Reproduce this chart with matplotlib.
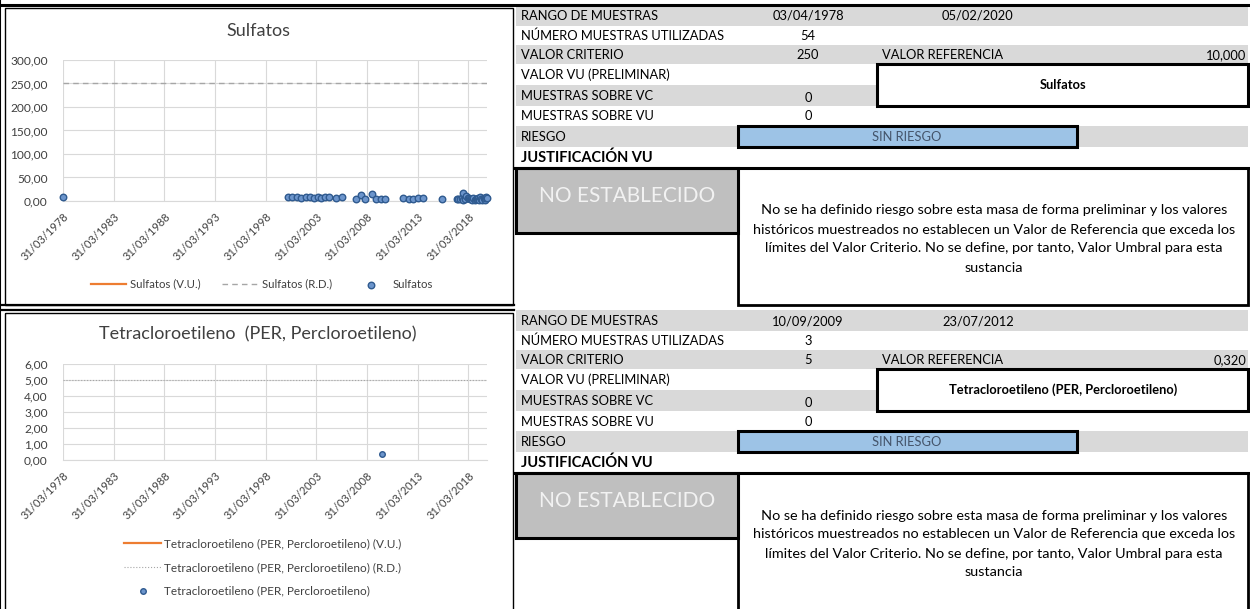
import pandas as pd
import matplotlib
matplotlib.use("Agg")
import matplotlib.pyplot as plt
from matplotlib.patches import Rectangle

plt.rcParams['font.family'] = ['Lato', 'DejaVu Sans']

W, H = 1250, 609

# ---- data -------------------------------------------------------------
sulf_dates = ['03/04/1978',
              '10/06/2000', '13/11/2000', '20/04/2001', '04/10/2001', '11/03/2002',
              '31/07/2002', '24/12/2002', '15/05/2003', '24/09/2003', '23/01/2004',
              '19/07/2004', '17/03/2005', '19/10/2005',
              '07/03/2007', '06/09/2007', '06/02/2008', '05/10/2008', '28/02/2009',
              '26/08/2009', '26/01/2010',
              '12/10/2011', '10/06/2012', '30/10/2012', '01/05/2013', '01/10/2013',
              '29/08/2015',
              '07/02/2017', '15/03/2017', '10/06/2017', '08/08/2017', '13/09/2017',
              '08/10/2017', '24/11/2017', '11/01/2018', '10/03/2018', '20/04/2018',
              '06/06/2018', '02/07/2018', '18/08/2018', '01/10/2018', '02/12/2018',
              '02/01/2019', '30/01/2019', '14/03/2019', '12/04/2019', '10/06/2019',
              '02/07/2019', '11/08/2019', '08/10/2019', '13/11/2019', '12/12/2019',
              '04/01/2020', '05/02/2020']
sulf_vals = [8,
             8, 8, 9, 7, 8, 8, 7, 8, 7, 8, 8, 7, 8,
             4, 13, 4, 15, 4, 4, 4,
             6, 4, 3.5, 6, 6,
             4.5,
             5, 5, 5, 6, 16, 2, 4, 10.5, 7, 6, 3.5, 5, 2, 7, 2,
             4, 5, 6, 2, 7.5, 5, 2.5, 7, 2, 6, 7.5, 7]
sulf_rd = 250

per_dates = ['10/09/2009']
per_vals = [0.40]
per_rd = 5

tick_dates = ['31/03/1978', '31/03/1983', '31/03/1988', '31/03/1993', '31/03/1998',
              '31/03/2003', '31/03/2008', '31/03/2013', '31/03/2018']
axis_start, axis_end = '31/03/1978', '05/02/2020'

row_labels = ['RANGO DE MUESTRAS', 'NÚMERO MUESTRAS UTILIZADAS', 'VALOR CRITERIO',
              'VALOR VU (PRELIMINAR)', 'MUESTRAS SOBRE VC', 'MUESTRAS SOBRE VU', 'RIESGO']

names = ['Sulfatos', 'Tetracloroetileno (PER, Percloroetileno)']
range_start = ['03/04/1978', '10/09/2009']
range_end = ['05/02/2020', '23/07/2012']
n_samples = ['54', '3']
valor_criterio = ['250', '5']
valor_referencia = ['10,000', '0,320']
over_vc = ['0', '0']
over_vu = ['0', '0']
riesgo = ['SIN RIESGO', 'SIN RIESGO']

justif = ("No se ha definido riesgo sobre esta masa de forma preliminar y los valores\n"
          "históricos muestreados no establecen un Valor de Referencia que exceda los\n"
          "límites del Valor Criterio. No se define, por tanto, Valor Umbral para esta\n"
          "sustancia")

# ---- figure ------------------------------------------------------------
fig = plt.figure(figsize=(W / 100, H / 100), dpi=100)
bg = fig.add_axes([0, 0, 1, 1])
bg.set_xlim(0, W)
bg.set_ylim(H, 0)
bg.axis('off')


def px(x0, y0, x1, y1):
    return [x0 / W, 1 - y1 / H, (x1 - x0) / W, (y1 - y0) / H]


def box(x0, y0, x1, y1, fc='none', lw=0.0, ec='black', z=2):
    bg.add_patch(Rectangle((x0, y0), x1 - x0, y1 - y0, facecolor=fc,
                           edgecolor=ec if lw else 'none', lw=lw, zorder=z))


to_date = lambda s: pd.to_datetime(s, dayfirst=True)
fmt = lambda v: f"{v:.2f}".replace('.', ',')


def chart(rect, title, label, dates, vals, rd, ymax, ystep, rd_ls, msize, title_y):
    ax = fig.add_axes(px(*rect))
    x = to_date(dates)
    ax.plot([], [], color='#ed7d31', lw=1.6, label=f'{label} (V.U.)')
    ax.axhline(rd, color='#a6a6a6', lw=1.0 if rd_ls != ':' else 0.8, ls=rd_ls,
               label=f'{label} (R.D.)')
    ax.scatter(x, vals, s=msize, facecolor='#6c95cc', edgecolor='#2f5a8f',
               lw=1.0, zorder=3, clip_on=False, label=label)
    ax.set_xlim(to_date(axis_start), to_date(axis_end))
    ax.set_ylim(0, ymax)
    yt = [i * ystep for i in range(int(round(ymax / ystep)) + 1)]
    ax.set_yticks(yt)
    ax.set_yticklabels([fmt(v) for v in yt])
    ax.set_xticks(to_date(tick_dates))
    ax.set_xticklabels(tick_dates, rotation=45, ha='right', rotation_mode='anchor')
    ax.grid(True, color='#d9d9d9', lw=0.8)
    ax.set_axisbelow(True)
    for s in ['top', 'right', 'left']:
        ax.spines[s].set_visible(False)
    ax.spines['bottom'].set_color('#d9d9d9')
    ax.tick_params(length=0, labelcolor='#404040')
    ax.tick_params(axis='x', pad=7, labelsize=8)
    ax.tick_params(axis='y', pad=11, labelsize=8.6)
    fig.text(258 / W, 1 - title_y / H, title, ha='center', va='center',
             fontsize=13, color='#404040')
    return ax


ax1 = chart((63, 60, 487, 201), 'Sulfatos', names[0], sulf_dates, sulf_vals,
            sulf_rd, 300, 50, (0, (4, 3)), 22, 31)
ax1.legend(loc='center', bbox_to_anchor=(262 / W, 1 - 284 / H),
           bbox_transform=fig.transFigure, ncol=3, frameon=False, fontsize=8.2,
           handlelength=3.15, columnspacing=1.85, handletextpad=0.35,
           labelcolor='#404040')

ax2 = chart((63, 364, 487, 460), 'Tetracloroetileno  (PER, Percloroetileno)',
            names[1], per_dates, per_vals, per_rd, 6, 1, ':', 16, 334)
ax2.legend(loc='upper left', bbox_to_anchor=(113 / W, 1 - 528 / H),
           bbox_transform=fig.transFigure, ncol=1, frameon=False, fontsize=8.5,
           handlelength=3.2, labelspacing=1.05, handletextpad=0.25,
           labelcolor='#404040')

# chart panel frames
bg.plot([0, 1249], [4.5, 4.5], color='black', lw=2.2, zorder=5)
box(5, 8, 513, 305, lw=1.0)
bg.plot([0, 514], [305, 305], color='black', lw=1.6, zorder=5)
bg.plot([0, 514], [310, 310], color='black', lw=1.6, zorder=5)
box(5, 313, 513, 612, lw=1.0)

# ---- tables ---------------------------------------------------------
row_y = [5, 26, 45, 64, 85, 106, 126, 147, 168]
TXT = dict(fontsize=9.3, color='black', va='center')

for k, oy in enumerate([0, 305]):
    yc = [oy + (row_y[i] + row_y[i + 1]) / 2 + 0.5 for i in range(8)]
    for i in (0, 2, 4, 6):
        box(516, oy + row_y[i], 1248, oy + row_y[i + 1], fc='#d9d9d9', z=1)
    for i, lab in enumerate(row_labels):
        bg.text(521, yc[i], lab, ha='left', **TXT)
    bg.text(521, yc[7], 'JUSTIFICACIÓN VU', ha='left', fontsize=10.5,
            fontweight='bold', va='center')
    bg.text(808, yc[0], range_start[k], ha='center', **TXT)
    bg.text(978, yc[0], range_end[k], ha='center', **TXT)
    bg.text(808, yc[1], n_samples[k], ha='center', **TXT)
    bg.text(808, yc[2], valor_criterio[k], ha='center', **TXT)
    bg.text(882, yc[2], 'VALOR REFERENCIA', ha='left', **TXT)
    bg.text(1246, yc[2], valor_referencia[k], ha='right', **TXT)
    bg.text(808, yc[4] + 2, over_vc[k], ha='center', **TXT)
    bg.text(808, yc[5], over_vu[k], ha='center', **TXT)

    # substance name box
    box(877, oy + row_y[3], 1248, oy + row_y[5], fc='white', lw=2.2, z=3)
    bg.text(1063, oy + (row_y[3] + row_y[5]) / 2, names[k], ha='center',
            va='center', fontsize=9.3, fontweight='bold', zorder=4)
    # risk box
    box(738, oy + row_y[6], 1077, oy + row_y[7], fc='#9dc3e6', lw=2.2, z=3)
    bg.text(907, yc[6], riesgo[k], ha='center', va='center', fontsize=9.3,
            color='#44546a', zorder=4)

    # justification block
    bg.plot([515, 1249], [oy + row_y[8], oy + row_y[8]], color='black', lw=2.2,
            zorder=5)
    box(738, oy + row_y[8], 1248, oy + row_y[8] + 137, lw=2.0, z=3)
    box(516, oy + row_y[8], 738, oy + row_y[8] + 65, fc='#bfbfbf', lw=2.2, z=4)
    bg.text(627, oy + 196, 'NO ESTABLECIDO', ha='center', va='center',
            fontsize=15, color='#f2f2f2', zorder=5)
    bg.text(994, oy + 239, justif, ha='center', va='center', fontsize=10.4,
            linespacing=1.7, zorder=5)

bg.plot([0, 0], [0, H], color='black', lw=1.5)

fig.savefig('out.png', dpi=100)
